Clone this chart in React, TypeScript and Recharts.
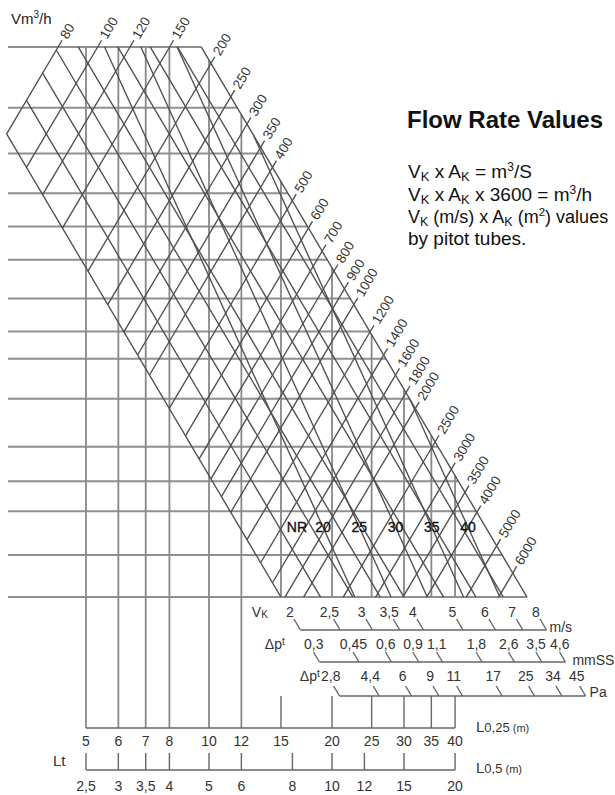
import React from "react";
import { ComposedChart, XAxis, YAxis, ReferenceLine, Scatter } from "recharts";

const W = 615;
const H = 795;
const FONT = '"Liberation Sans", Arial, Helvetica, sans-serif';

// values
const flowRates = [80, 100, 120, 150, 200, 250, 300, 350, 400, 500, 600, 700, 800, 900, 1000, 1200, 1400, 1600, 1800, 2000, 2500, 3000, 3500, 4000, 5000, 6000];
const velocities = [2, 2.5, 3, 3.5, 4, 5, 6, 7, 8];
const pressureMm = ["0,3", "0,45", "0,6", "0,9", "1,1", "1,8", "2,6", "3,5", "4,6"];
const pressurePa = ["2,8", "4,4", "6", "9", "11", "17", "25", "34", "45"];
const noiseRatings = [20, 25, 30, 35, 40];
const ductSizes = [89, 109, 127, 145, 162, 181, 206, 230, 252, 288, 338, 379, 419, 485, 558];
const lengthQuarter = [5, 6, 7, 8, 10, 12, 15, 20, 25, 30, 35, 40];
const lengthHalf = [2.5, 3, 3.5, 4, 5, 6, 8, 10, 12, 15, 20];

// x = position on the L0,25 scale (log), y = duct size mm (log, growing downwards)
const X_DOMAIN: [number, number] = [3.08, 98.5];
const Y_DOMAIN: [number, number] = [76.1, 1080];

const D_TOP = ductSizes[0];
const D_BOT = ductSizes[ductSizes.length - 1];
const V_LO = velocities[0];
const V_HI = velocities[velocities.length - 1];
const Q_LO = flowRates[0];
const AREA_K = 353.7; // d(mm)^2 = AREA_K * Q(m3/h) / v(m/s)
const V_SCALE = 7.5; // x position per m/s on the bottom duct row
const HALF_TO_QUARTER = 2;
const NR_BASE = 19;
const NR_STEP = 1.2266;
const NR_SLOPE = 0.768;
const FLOW_EXT = 0.978;
const LABEL_ANGLE = 59.4;

// layout rows / columns given in page pixels, turned into axis values
const rowAt = (py: number) => Y_DOMAIN[0] * Math.pow(Y_DOMAIN[1] / Y_DOMAIN[0], py / H);
const colAt = (px: number) => X_DOMAIN[0] * Math.pow(X_DOMAIN[1] / X_DOMAIN[0], px / W);

const velX = (v: number, d: number) => (V_SCALE * v * d) / D_BOT;
const flowX = (q: number, d: number) => (V_SCALE * AREA_K * q) / (D_BOT * d);
const ductAt = (q: number, v: number) => Math.sqrt((AREA_K * q) / v);
const nrRow = rowAt(527);
const nrX = (nr: number, d: number) =>
  NR_BASE * Math.pow(NR_STEP, (nr - 20) / 5) * Math.pow(d / nrRow, NR_SLOPE);
const fmt = (n: number) => String(n).replace(".", ",");

const TONES = {
  grid: { stroke: "#8f8f8f", strokeWidth: 2 },
  col: { stroke: "#888888", strokeWidth: 1.8 },
  diag: { stroke: "#4f4f4f", strokeWidth: 1.35 },
  scale: { stroke: "#666666", strokeWidth: 1.4 },
};

type Seg = { id: string; x1: number; y1: number; x2: number; y2: number; tone: keyof typeof TONES };
const segments: Seg[] = [];
const seg = (id: string, x1: number, y1: number, x2: number, y2: number, tone: keyof typeof TONES) =>
  segments.push({ id, x1, y1, x2, y2, tone });

// duct rows
ductSizes.forEach((d) => seg(`h${d}`, colAt(8), d, velX(V_HI, d), d, "grid"));

// length columns
const bracketRow = rowAt(728);
const longColMax = velX(V_LO, D_BOT) * 0.9;
lengthQuarter.forEach((L) => {
  const top = Math.max(D_TOP, (L * D_BOT) / (V_SCALE * V_HI));
  if (L < longColMax) {
    seg(`l${L}`, L, top, L, bracketRow, "col");
  } else {
    seg(`l${L}`, L, top, L, D_BOT, "col");
    seg(`lt${L}`, L, rowAt(696), L, bracketRow, "scale");
  }
});
seg("lbr", lengthQuarter[0], bracketRow, lengthQuarter[lengthQuarter.length - 1], bracketRow, "scale");

// Lt scale (L0,5)
lengthHalf.forEach((h) =>
  seg(`lh${h}`, h * HALF_TO_QUARTER, rowAt(753), h * HALF_TO_QUARTER, rowAt(770), "scale")
);
seg("lhb", lengthHalf[0] * HALF_TO_QUARTER, rowAt(770), lengthHalf[lengthHalf.length - 1] * HALF_TO_QUARTER, rowAt(770), "scale");

// velocity lines
velocities.forEach((v) => {
  const top = Math.max(D_TOP, ductAt(Q_LO, v));
  seg(`v${v}`, velX(v, top), top, velX(v, D_BOT), D_BOT, "diag");
});

// flow lines
flowRates.forEach((q) => {
  const top = Math.max(D_TOP, ductAt(q, V_HI)) * FLOW_EXT;
  const bot = Math.min(D_BOT, ductAt(q, V_LO));
  seg(`q${q}`, flowX(q, top), top, flowX(q, bot), bot, "diag");
});

// noise rating lines
noiseRatings.forEach((nr) => {
  const x0 = nrX(nr, nrRow);
  const hit = nrRow * Math.pow((x0 * D_BOT) / (V_SCALE * V_HI * nrRow), 1 / (1 - NR_SLOPE));
  const top = Math.max(D_TOP, hit);
  seg(`nr${nr}`, nrX(nr, top), top, nrX(nr, D_BOT), D_BOT, "diag");
});

// scales below the grid, ticks continue the velocity lines
const scaleRows = [
  { id: "vk", labels: velocities.map(fmt), labelY: 612, tickTop: 619, tickBottom: 630, dx: 0, title: "vk", titleDx: -22, unit: "m/s", unitY: 627, unitDx: 3 },
  { id: "mm", labels: pressureMm, labelY: 644, tickTop: 652, tickBottom: 662, dx: 5, title: "dpt", titleDx: -29, unit: "mmSS", unitY: 660, unitDx: 7 },
  { id: "pa", labels: pressurePa, labelY: 676, tickTop: 686, tickBottom: 696, dx: 3, title: "dpt", titleDx: -11, unit: "Pa", unitY: 692, unitDx: 4 },
];

type Mark = { x: number; y: number; text: string; dx?: number; anchor?: string };
const scaleMarks: Mark[] = [];
const titleMarks: Mark[] = [];
scaleRows.forEach((r) => {
  const t = rowAt(r.tickTop);
  const b = rowAt(r.tickBottom);
  velocities.forEach((v, i) => {
    seg(`${r.id}${v}`, velX(v, t), t, velX(v, b), b, "scale");
    scaleMarks.push({ x: velX(v, rowAt(r.labelY)), y: rowAt(r.labelY), text: r.labels[i], dx: r.dx });
  });
  seg(`${r.id}b`, velX(V_LO, b), b, velX(V_HI, b), b, "scale");
  titleMarks.push({ x: velX(V_LO, rowAt(r.labelY)), y: rowAt(r.labelY), text: r.title, dx: r.dx + r.titleDx });
  scaleMarks.push({ x: velX(V_HI, b), y: rowAt(r.unitY), text: r.unit, dx: r.unitDx, anchor: "start" });
});

lengthQuarter.forEach((L) => scaleMarks.push({ x: L, y: rowAt(741), text: fmt(L) }));
lengthHalf.forEach((h) => scaleMarks.push({ x: h * HALF_TO_QUARTER, y: rowAt(786), text: fmt(h) }));

const flowMarks: Mark[] = flowRates.map((q) => {
  const d = Math.max(D_TOP, ductAt(q, V_HI)) * FLOW_EXT;
  return { x: flowX(q, d), y: d, text: String(q) };
});
const nrMarks: Mark[] = noiseRatings.map((nr) => ({ x: nrX(nr, nrRow), y: nrRow, text: String(nr) }));

const item = (p: any): Mark => p.payload ?? p;

const ScaleLabel = (p: any) => {
  const m = item(p);
  return (
    <text x={p.cx + (m.dx ?? 0)} y={p.cy} textAnchor={m.anchor ?? "middle"} dominantBaseline="central"
      fontSize={14} fill="#333" fontFamily={FONT}>
      {m.text}
    </text>
  );
};

const TitleLabel = (p: any) => {
  const m = item(p);
  const x = p.cx + (m.dx ?? 0);
  if (m.text === "vk") {
    return (
      <text x={x} y={p.cy + 5} textAnchor="end" fontSize={14} fill="#333" fontFamily={FONT}>
        V<tspan fontSize={10} dy={1}>K</tspan>
      </text>
    );
  }
  return (
    <text x={x} y={p.cy + 5} textAnchor="end" fontSize={14} fill="#333" fontFamily={FONT}>
      Δp<tspan fontSize={10} dy={-4}>t</tspan>
    </text>
  );
};

const FlowLabel = (p: any) => {
  const m = item(p);
  return (
    <text x={p.cx} y={p.cy} dx={3} transform={`rotate(${-LABEL_ANGLE} ${p.cx} ${p.cy})`}
      dominantBaseline="central" fontSize={13.5} fill="#333" fontFamily={FONT}>
      {m.text}
    </text>
  );
};

const NrLabel = (p: any) => {
  const m = item(p);
  return (
    <g fontFamily={FONT} fontSize={14} fill="#111" stroke="#111" strokeWidth={0.35}>
      {m.text === String(noiseRatings[0]) && (
        <text x={p.cx - 26} y={p.cy} textAnchor="middle" dominantBaseline="central">NR</text>
      )}
      <text x={p.cx} y={p.cy} textAnchor="middle" dominantBaseline="central">{m.text}</text>
    </g>
  );
};

export default function App() {
  return (
    <div style={{ position: "fixed", left: 0, top: 0, width: W, height: H, overflow: "hidden", background: "#fff" }}>
      <ComposedChart width={W} height={H} margin={{ top: 0, right: 0, bottom: 0, left: 0 }}>
        <XAxis type="number" dataKey="x" scale="log" domain={X_DOMAIN} allowDataOverflow hide />
        <YAxis type="number" dataKey="y" scale="log" domain={Y_DOMAIN} reversed allowDataOverflow hide />
        {segments.map((s) => (
          <ReferenceLine
            key={s.id}
            segment={[{ x: s.x1, y: s.y1 }, { x: s.x2, y: s.y2 }]}
            ifOverflow="visible"
            {...TONES[s.tone]}
          />
        ))}
        <Scatter data={flowMarks} shape={FlowLabel} isAnimationActive={false} />
        <Scatter data={nrMarks} shape={NrLabel} isAnimationActive={false} />
        <Scatter data={scaleMarks} shape={ScaleLabel} isAnimationActive={false} />
        <Scatter data={titleMarks} shape={TitleLabel} isAnimationActive={false} />
      </ComposedChart>
      <svg width={W} height={H} style={{ position: "absolute", left: 0, top: 0, pointerEvents: "none" }} fontFamily={FONT}>
        <text x={11} y={24} fontSize={15} fill="#222">
          Vm<tspan fontSize={10} dy={-6}>3</tspan>
          <tspan dy={6}>/h</tspan>
        </text>
        <text x={407} y={128} fontSize={24} fontWeight="bold" fill="#111">Flow Rate Values</text>
        <g fontSize={19} fill="#111">
          <text x={408} y={178}>
            V<tspan fontSize={13} dy={3}>K</tspan><tspan dy={-3}> x A</tspan><tspan fontSize={13} dy={3}>K</tspan>
            <tspan dy={-3}> = m</tspan><tspan fontSize={12} dy={-7}>3</tspan><tspan dy={7}>/S</tspan>
          </text>
          <text x={408} y={201}>
            V<tspan fontSize={13} dy={3}>K</tspan><tspan dy={-3}> x A</tspan><tspan fontSize={13} dy={3}>K</tspan>
            <tspan dy={-3}> x 3600 = m</tspan><tspan fontSize={12} dy={-7}>3</tspan><tspan dy={7}>/h</tspan>
          </text>
          <text x={408} y={223} fontSize={18}>
            V<tspan fontSize={12.5} dy={3}>K</tspan><tspan dy={-3}> (m/s) x A</tspan><tspan fontSize={12.5} dy={3}>K</tspan>
            <tspan dy={-3}> (m</tspan><tspan fontSize={11.5} dy={-7}>2</tspan><tspan dy={7}>) values</tspan>
          </text>
          <text x={408} y={245}>by pitot tubes.</text>
        </g>
        <g fill="#333">
          <text x={476} y={732} fontSize={15}>
            L<tspan fontSize={13}>0,25</tspan><tspan fontSize={11}> (m)</tspan>
          </text>
          <text x={476} y={773} fontSize={15}>
            L<tspan fontSize={13}>0,5</tspan><tspan fontSize={11}> (m)</tspan>
          </text>
          <text x={53} y={766} fontSize={15}>Lt</text>
        </g>
      </svg>
    </div>
  );
}
